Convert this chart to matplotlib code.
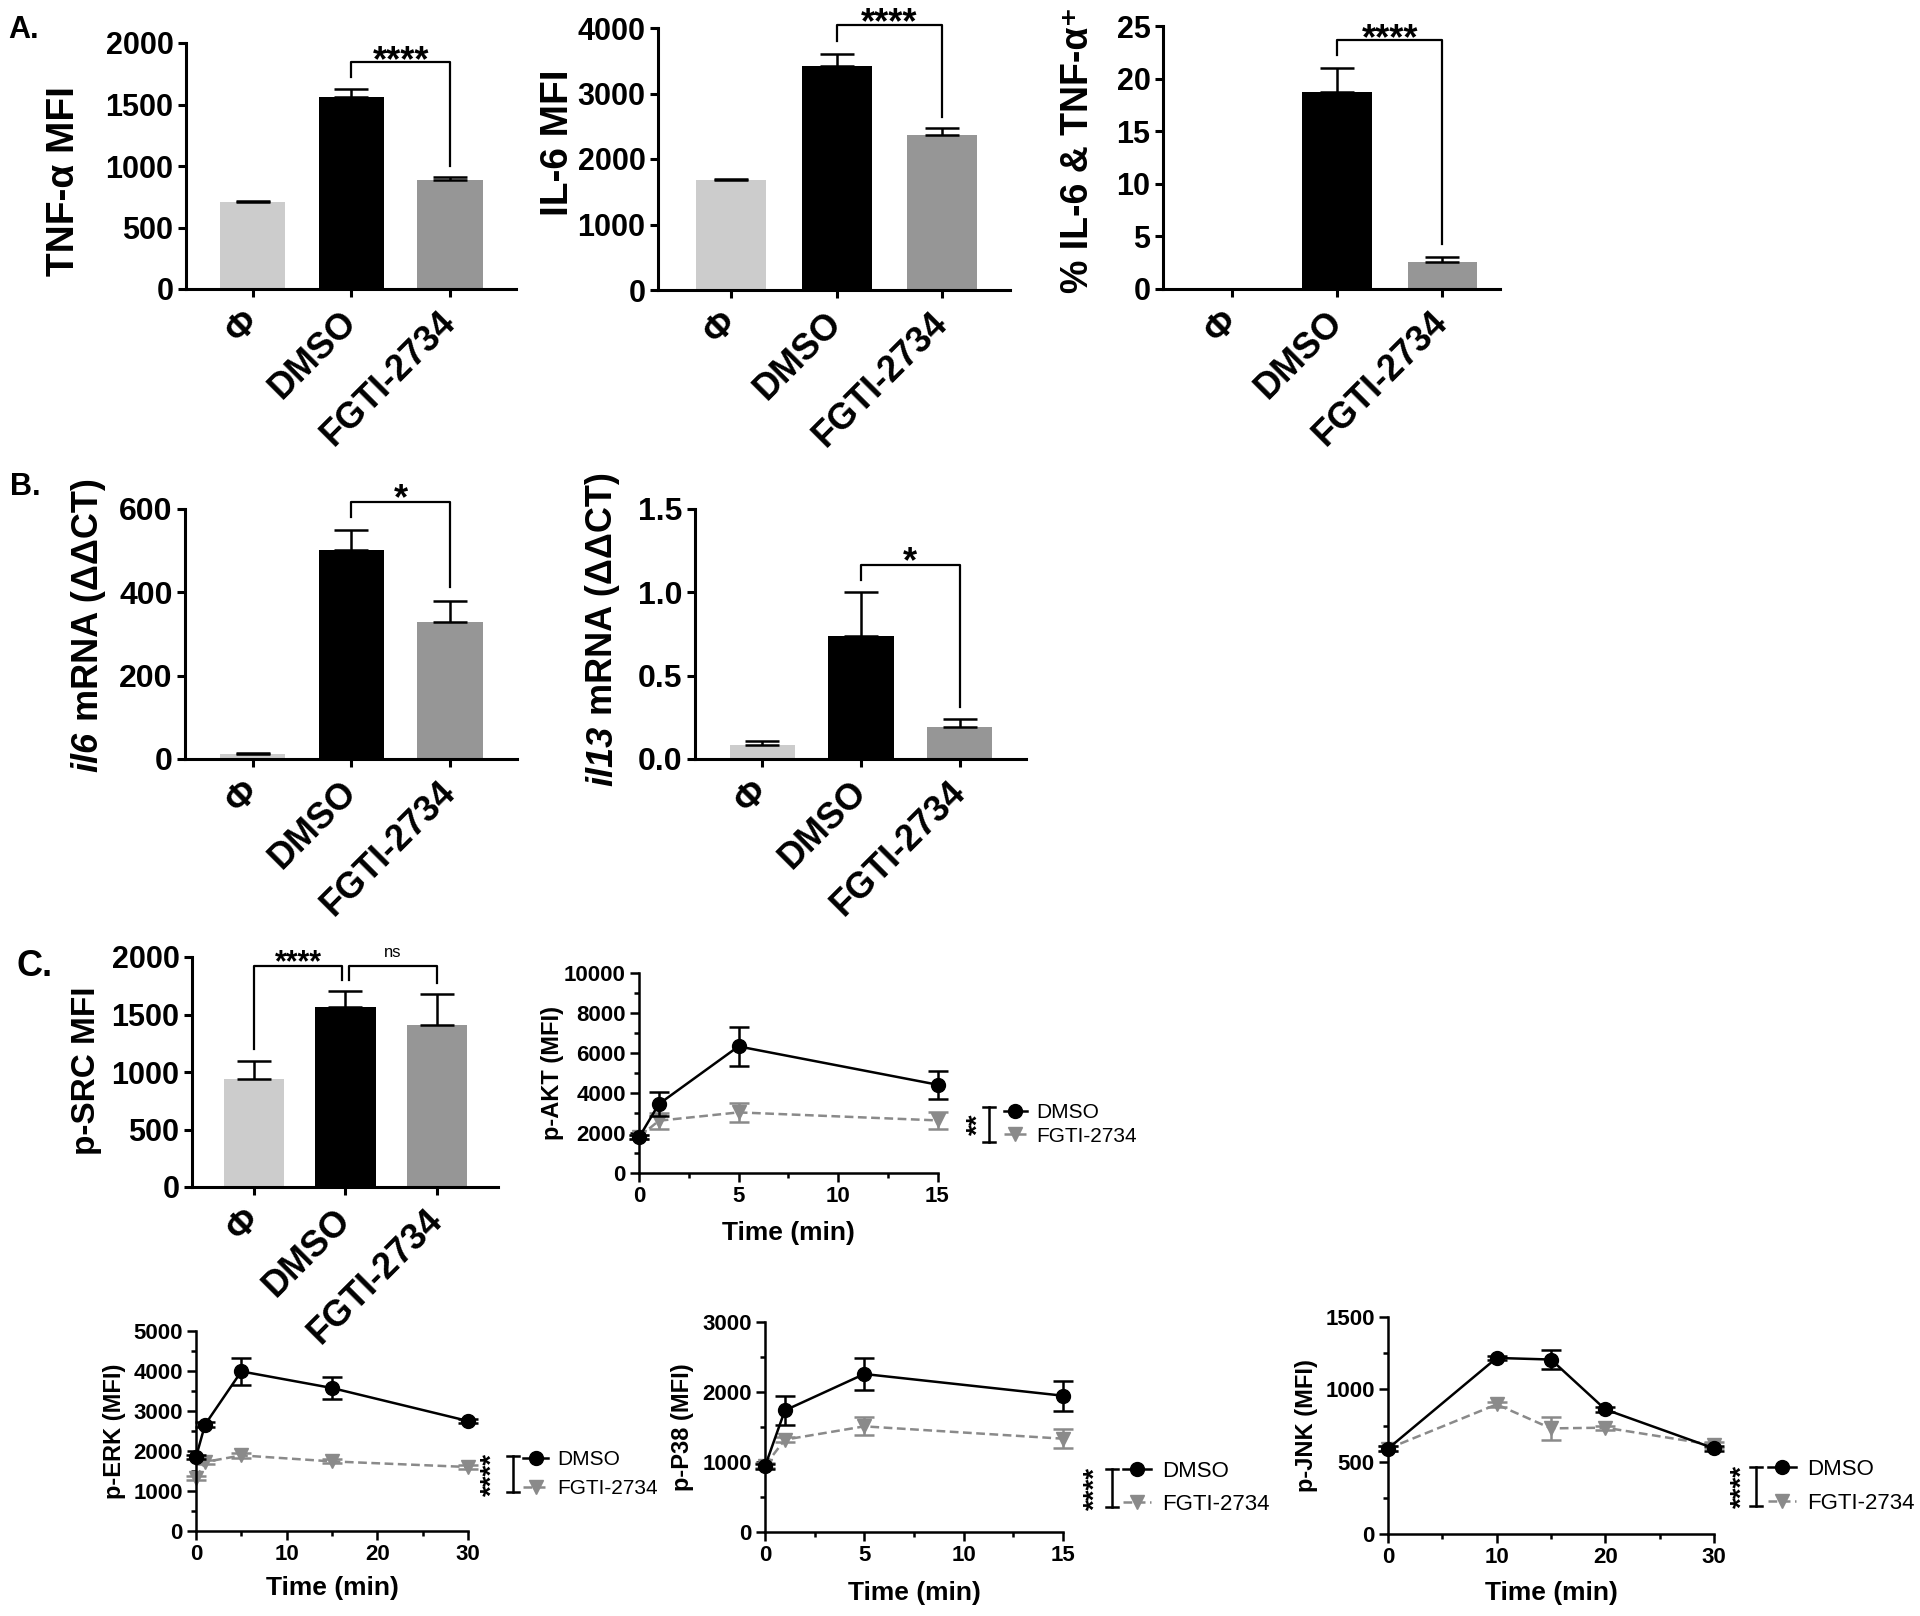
import numpy as np
import matplotlib
matplotlib.use("Agg")
import matplotlib.pyplot as plt
from matplotlib.lines import Line2D
from matplotlib.ticker import MultipleLocator

W, H = 1920, 1616
plt.rcParams['font.family'] = ['Liberation Sans', 'DejaVu Sans']
plt.rcParams['font.weight'] = 'bold'
plt.rcParams['axes.labelweight'] = 'bold'
plt.rcParams['axes.facecolor'] = 'none'

# ---- data ----
groups = ['Φ', 'DMSO', 'FGTI-2734']
bar_colors = ['#cccccc', '#000000', '#969696']

tnf_mfi = [710, 1563, 886]
tnf_err = [8, 60, 22]
il6_mfi = [1673, 3416, 2368]
il6_err = [20, 193, 102]
dbl_pos = [0, 18.75, 2.57]
dbl_err = [0, 2.25, 0.5]
il6_mrna = [11, 502, 330]
il6_mrna_err = [4, 48, 49]
il13_mrna = [0.082, 0.736, 0.194]
il13_mrna_err = [0.026, 0.264, 0.046]
psrc_mfi = [937, 1565, 1412]
psrc_err = [159, 137, 264]

akt_t = [0, 1, 5, 15]
akt_dmso = [1780, 3450, 6330, 4415]
akt_dmso_err = [100, 615, 960, 700]
akt_fgti = [1800, 2615, 3030, 2630]
akt_fgti_err = [100, 400, 480, 420]

erk_t = [0, 1, 5, 15, 30]
erk_dmso = [1850, 2660, 3990, 3575, 2750]
erk_dmso_err = [60, 60, 330, 275, 60]
erk_fgti = [1325, 1725, 1890, 1740, 1600]
erk_fgti_err = [60, 60, 60, 50, 50]

p38_t = [0, 1, 5, 15]
p38_dmso = [937, 1737, 2257, 1947]
p38_dmso_err = [30, 210, 225, 215]
p38_fgti = [950, 1319, 1509, 1333]
p38_fgti_err = [30, 40, 130, 140]

jnk_t = [0, 10, 15, 20, 30]
jnk_dmso = [590, 1217, 1206, 861, 592]
jnk_dmso_err = [15, 15, 68, 15, 15]
jnk_fgti = [590, 896, 730, 735, 615]
jnk_fgti_err = [15, 15, 80, 15, 20]

fig = plt.figure(figsize=(W / 100, H / 100), dpi=100)
renderer = fig.canvas.get_renderer()


def px_axes(left, top, right, bottom):
    return fig.add_axes([left / W, 1 - bottom / H, (right - left) / W, (bottom - top) / H])


def fx(px):
    return px / W


def fy(py):
    return 1 - py / H


def style_axes(ax, lw):
    for s in ['top', 'right']:
        ax.spines[s].set_visible(False)
    for s in ['left', 'bottom']:
        ax.spines[s].set_linewidth(lw)
    ax.tick_params(direction='out', width=lw)


def bar_panel(box, xlim, ymax, ystep, means, errs, yfs=22, xfs=26):
    ax = px_axes(*box)
    style_axes(ax, 2.2)
    x = np.arange(len(groups))
    ax.bar(x, means, width=0.66, color=bar_colors)
    ax.errorbar(x, means, yerr=[np.zeros(len(errs)), errs], fmt='none', ecolor='black',
                elinewidth=1.8, capsize=12, capthick=1.8)
    ax.set_xlim(*xlim)
    ax.set_ylim(0, ymax)
    ax.set_yticks(np.arange(0, ymax + ystep / 2, ystep))
    ax.tick_params(axis='y', labelsize=yfs, length=6, pad=3)
    ax.tick_params(axis='x', length=6, pad=14)
    ax.set_xticks(x)
    ax.set_xticklabels(groups, rotation=45, ha='right', va='center',
                       rotation_mode='anchor', fontsize=xfs)
    if ystep < 1:
        ax.yaxis.set_major_formatter(matplotlib.ticker.FormatStrFormatter('%.1f'))
    return ax


def bracket(ax, x1, x2, y1, y2, top, text, fs=26, weight='bold', off=-6.5):
    ax.plot([x1, x1, x2, x2], [y1, top, top, y2], color='black', lw=1.6, clip_on=False)
    ax.annotate(text, xy=((x1 + x2) / 2, top), xytext=(0, off), textcoords='offset points',
                ha='center', va='baseline', fontsize=fs, fontweight=weight,
                annotation_clip=False)


def ylabel_px(text, x, y, fs, **kw):
    fig.text(fx(x), fy(y), text, rotation=90, ha='center', va='center', fontsize=fs, **kw)


def ylabel_italic(prefix, rest, x, y, fs):
    t1 = fig.text(0, 0, prefix, rotation=90, rotation_mode='anchor', ha='left',
                  va='center', fontsize=fs, style='italic')
    t2 = fig.text(0, 0, rest, rotation=90, rotation_mode='anchor', ha='left',
                  va='center', fontsize=fs)
    h1 = t1.get_window_extent(renderer).height
    h2 = t2.get_window_extent(renderer).height
    gap = 0.28 * fs * 100 / 72
    start = y + (h1 + gap + h2) / 2
    t1.set_position((fx(x), fy(start)))
    t2.set_position((fx(x), fy(start - h1 - gap)))


# ---- A ----
ax = bar_panel((186, 43, 516, 289), (-0.68, 2.67), 2000, 500, tnf_mfi, tnf_err)
bracket(ax, 1, 2, 1723, 1002, 1848, '****')
ylabel_px('TNF-α MFI', 64, 181, 28)

ax = bar_panel((658, 28, 1010, 290), (-0.69, 2.64), 4000, 1000, il6_mfi, il6_err)
bracket(ax, 1, 2, 3802, 2643, 4052, '****')
ylabel_px('IL-6 MFI', 558, 143, 28)

ax = bar_panel((1163, 26, 1500, 289), (-0.657, 2.55), 25, 5, dbl_pos, dbl_err)
bracket(ax, 1, 2, 22.2, 4.3, 23.7, '****')
ylabel_px('% IL-6 & TNF-α⁺', 1078, 150, 27)

# ---- B ----
ax = bar_panel((185, 509, 517, 759), (-0.69, 2.68), 600, 200, il6_mrna, il6_mrna_err, yfs=23)
bracket(ax, 1, 2, 581, 412, 616, '*', off=-5)
ylabel_italic('il6', 'mRNA (ΔΔCT)', 88, 625, 26)

ax = bar_panel((695, 509, 1026, 759), (-0.68, 2.67), 1.5, 0.5, il13_mrna, il13_mrna_err, yfs=23)
bracket(ax, 1, 2, 1.074, 0.31, 1.162, '*', off=-5)
ylabel_italic('il13', 'mRNA (ΔΔCT)', 603, 629, 26)

# ---- C bars ----
ax_src = bar_panel((192, 957, 498, 1187), (-0.68, 2.67), 2000, 500, psrc_mfi, psrc_err)
ax_src.set_zorder(5)
bracket(ax_src, 0, 0.96, 1197, 1803, 1919, '****', fs=22, off=-3.4)
bracket(ax_src, 1.04, 2, 1803, 1774, 1919, 'ns', fs=12, weight='normal', off=7)
ylabel_px('p-SRC MFI', 87, 1071, 24)

grey = '#8a8a8a'


def line_panel(box, xmax, xstep, xminor, ymax, ystep, yminor, t, d, de, f, fe,
               ylabel, ylab_x, xlab_y, tfs=16):
    ax = px_axes(*box)
    style_axes(ax, 1.8)
    ax.errorbar(t, d, yerr=de, fmt='none', ecolor='black', elinewidth=1.8,
                capsize=7.5, capthick=1.8, clip_on=False, zorder=3)
    ax.errorbar(t, f, yerr=fe, fmt='none', ecolor=grey, elinewidth=1.8,
                capsize=7.5, capthick=1.8, clip_on=False, zorder=2)
    l2, = ax.plot(t, f, color=grey, ls='--', lw=1.8, dashes=(3.5, 1.8), marker='v', ms=10,
                  clip_on=False, zorder=2, label='FGTI-2734')
    l1, = ax.plot(t, d, color='black', lw=1.8, marker='o', ms=10, clip_on=False,
                  zorder=4, label='DMSO')
    ax.set_xlim(0, xmax)
    ax.set_ylim(0, ymax)
    ax.set_xticks(np.arange(0, xmax + 0.1, xstep))
    ax.set_yticks(np.arange(0, ymax + 0.1, ystep))
    ax.xaxis.set_minor_locator(MultipleLocator(xminor))
    ax.yaxis.set_minor_locator(MultipleLocator(yminor))
    ax.tick_params(which='major', length=6.5, labelsize=tfs, pad=3)
    ax.tick_params(which='minor', length=3.5, width=1.8)
    l, t_, r, b = box
    ylabel_px(ylabel, ylab_x, (t_ + b) / 2, 17)
    fig.text(fx((l + r) / 2), fy(xlab_y), 'Time (min)', ha='center', va='center', fontsize=19)
    return ax, l1, l2


def sig_legend(ax, handles, bar_x, y1, y2, stars, star_x, leg_x, fs, hl, htp, ls):
    fig.add_artist(Line2D([fx(bar_x)] * 2, [fy(y1), fy(y2)], color='black', lw=1.8))
    for yy in (y1, y2):
        fig.add_artist(Line2D([fx(bar_x - 6), fx(bar_x + 6)], [fy(yy)] * 2, color='black', lw=1.8))
    fig.text(fx(star_x), fy((y1 + y2) / 2), stars, rotation=90, ha='center', va='center',
             fontsize=20)
    ax.legend(handles=handles, loc='center left', bbox_to_anchor=(fx(leg_x), fy((y1 + y2) / 2)),
              bbox_transform=fig.transFigure, frameon=False, handlelength=hl,
              handletextpad=htp, labelspacing=ls, borderpad=0, borderaxespad=0,
              prop={'weight': 'normal', 'size': fs})


ax, l1, l2 = line_panel((639, 973, 937.5, 1173), 15, 5, 2.5, 10000, 2000, 1000,
                        akt_t, akt_dmso, akt_dmso_err, akt_fgti, akt_fgti_err,
                        'p-AKT (MFI)', 553, 1233)
sig_legend(ax, [l1, l2], 989, 1107, 1142, '**', 979, 1004, 15, 1.1, 0.45, 0.2)

ax, l1, l2 = line_panel((196, 1331, 468, 1531), 30, 10, 5, 5000, 1000, 500,
                        erk_t, erk_dmso, erk_dmso_err, erk_fgti, erk_fgti_err,
                        'p-ERK (MFI)', 114, 1588)
sig_legend(ax, [l1, l2], 513, 1456, 1492, '****', 493, 523, 15, 1.2, 0.45, 0.48)

ax, l1, l2 = line_panel((765, 1322, 1063, 1532), 15, 5, 2.5, 3000, 1000, 500,
                        p38_t, p38_dmso, p38_dmso_err, p38_fgti, p38_fgti_err,
                        'p-P38 (MFI)', 682, 1593)
sig_legend(ax, [l1, l2], 1112, 1469, 1507, '****', 1096, 1123, 16, 1.25, 0.5, 0.52)

ax, l1, l2 = line_panel((1388, 1317, 1714, 1534), 30, 10, 5, 1500, 500, 250,
                        jnk_t, jnk_dmso, jnk_dmso_err, jnk_fgti, jnk_fgti_err,
                        'p-JNK (MFI)', 1306, 1593)
sig_legend(ax, [l1, l2], 1756, 1467, 1506, '****', 1743, 1768, 16, 1.25, 0.5, 0.6)

# panel letters
fig.text(fx(8), fy(30), 'A.', fontsize=22, va='center', ha='left')
fig.text(fx(10), fy(487), 'B.', fontsize=22, va='center', ha='left')
fig.text(fx(16), fy(966), 'C.', fontsize=26, va='center', ha='left')

fig.savefig('out.png', dpi=100)
